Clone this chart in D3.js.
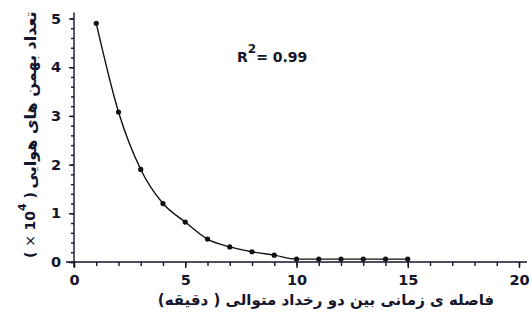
<!DOCTYPE html>
<html><head><meta charset="utf-8">
<script src="https://cdn.jsdelivr.net/npm/d3@7"></script>
<style>body{margin:0;background:#fff}svg{display:block}</style>
</head><body>
<svg id="c" width="531" height="314"></svg>
<script>
const xValues = [1,2,3,4,5,6,7,8,9,10,11,12,13,14,15];
const yValues = [4.9,3.08,1.9,1.2,0.82,0.47,0.31,0.21,0.14,0.06,0.06,0.06,0.06,0.06,0.06];
const xTicks = [0,5,10,15,20];
const yTicks = [0,1,2,3,4,5];
const xMinorTicks = d3.range(0,21,1);
const yMinorTicks = d3.range(0,26,1).map(i=>i*0.2);
const xTitle = "فاصله ی زمانی بین دو رخداد متوالی ( دقیقه)";
const yTitle = "تعداد بهمن های هوایی";
const r2Label = "0.99";

const svg = d3.select("#c");
const ink = "#14142a";
const fontNum = "'DejaVu Sans', sans-serif";
const x = d3.scaleLinear().domain([0,20]).range([74,519]);
const y = d3.scaleLinear().domain([0,5]).range([262,18.5]);

function styleAxis(g){
  g.select(".domain").remove();
  g.selectAll(".tick line").attr("stroke",ink).attr("stroke-width",1.4);
  g.selectAll(".tick text").attr("fill",ink)
    .style("font-family",fontNum).style("font-weight","bold").style("font-size","14.5px");
}

// x axis
svg.append("g").attr("transform",`translate(0,${y(0)})`)
  .call(d3.axisBottom(x).tickValues(xMinorTicks).tickSize(4).tickFormat(""))
  .call(styleAxis);
svg.append("g").attr("transform",`translate(0,${y(0)})`)
  .call(d3.axisBottom(x).tickValues(xTicks).tickSize(6).tickPadding(7).tickFormat(d3.format("d")))
  .call(styleAxis);
svg.append("line").attr("x1",x(0)-8).attr("x2",x(20)+8).attr("y1",y(0)).attr("y2",y(0))
  .attr("stroke",ink).attr("stroke-width",1.4);

// y axis
svg.append("g").attr("transform",`translate(${x(0)},0)`)
  .call(d3.axisLeft(y).tickValues(yMinorTicks).tickSize(3).tickFormat(""))
  .call(styleAxis);
svg.append("g").attr("transform",`translate(${x(0)},0)`)
  .call(d3.axisLeft(y).tickValues(yTicks).tickSize(5).tickPadding(8).tickFormat(d3.format("d")))
  .call(styleAxis);
svg.append("line").attr("x1",x(0)).attr("x2",x(0)).attr("y1",y(0)+5).attr("y2",y(5)-6)
  .attr("stroke",ink).attr("stroke-width",1.4);

// curve
const pts = xValues.map((d,i)=>[d,yValues[i]]);
const lineGen = d3.line().x(d=>x(d[0])).y(d=>y(d[1])).curve(d3.curveMonotoneX);
svg.append("path").datum(pts)
  .attr("fill","none").attr("stroke","#111").attr("stroke-width",1.4)
  .attr("d", lineGen);

svg.selectAll("circle.pt").data(pts).join("circle").attr("class","pt")
  .attr("cx",d=>x(d[0])).attr("cy",d=>y(d[1])).attr("r",2.6).attr("fill","#111");

// R^2
const rt = svg.append("text").attr("x",237).attr("y",62).attr("fill",ink)
  .style("font-family",fontNum).style("font-weight","bold").style("font-size","14px");
rt.append("tspan").text("R");
rt.append("tspan").attr("dy",-9).style("font-size","12px").text("2");
rt.append("tspan").attr("dy",9).text("= " + r2Label);

// x title
svg.append("text").attr("x",326).attr("y",305).attr("text-anchor","middle")
  .attr("direction","rtl").attr("fill",ink)
  .style("font-family","'DejaVu Sans', sans-serif").style("font-weight","bold").style("font-size","15px")
  .text(xTitle);

// y title
svg.append("text").attr("transform","translate(30,100) rotate(-90)")
  .attr("text-anchor","middle").attr("dominant-baseline","central")
  .attr("direction","rtl").attr("fill",ink)
  .style("font-family","'DejaVu Sans', sans-serif").style("font-weight","bold").style("font-size","16px")
  .text(yTitle);
const yt2 = svg.append("text").attr("transform","translate(30,225) rotate(-90)")
  .attr("text-anchor","middle").attr("dominant-baseline","central").attr("fill",ink)
  .style("font-family",fontNum).style("font-weight","bold").style("font-size","14px");
yt2.append("tspan").text("( ");
yt2.append("tspan").style("font-weight","normal").text("× ");
yt2.append("tspan").text("10");
yt2.append("tspan").attr("dy",-8).style("font-size","11px").text("4");
yt2.append("tspan").attr("dy",8).text(" )");
</script>
</body></html>
